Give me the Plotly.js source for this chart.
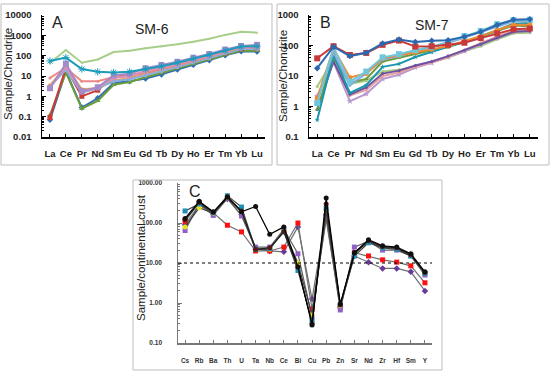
<!DOCTYPE html>
<html><head><meta charset="utf-8">
<script src="https://cdn.plot.ly/plotly-3.0.1.min.js"></script>
<style>html,body{margin:0;padding:0;background:#fff}#chart{width:550px;height:374px}</style>
</head><body><div id="chart"></div>
<script>
// ---------- Data ----------
const REE = ['La','Ce','Pr','Nd','Sm','Eu','Gd','Tb','Dy','Ho','Er','Tm','Yb','Lu'];
const TRACE = ['Cs','Rb','Ba','Th','U','Ta','Nb','Ce','Bi','Cu','Pb','Zn','Sr','Nd','Zr','Hf','Sm','Y'];

// Panel A: SM-6 (sample/chondrite)
const sm6Blue   = [0.07,17,0.28,0.8,4.5,5.5,7.5,12,21,36,60,105,165,160];
const sm6Red    = [0.09,25,1.0,2.0,9,11,14,20,32,52,85,140,220,230];
const sm6Green  = [0.12,15,0.25,0.6,3.7,5,9,14,24,40,65,115,180,175];
const sm6Purple = [2.5,40,1.8,2.8,11,13,24,35,50,80,120,200,300,340];
const sm6Cyan   = [55,80,22,16,15,16,22,30,45,70,110,180,280,290];
const sm6Orange = [3.5,30,2.2,2.5,6,8,12,18,30,50,80,140,230,220];
const sm6Salmon = [8,25,5.5,5.5,9,10,15,22,35,55,90,150,250,250];
const sm6LtGreen= [44,190,45,65,150,175,230,280,360,480,680,1050,1500,1350];
const sm6LtBlue = [3,20,1.5,2.5,5.5,7,11,17,28,46,75,130,210,210];
const sm6Pink   = [2.8,28,1.7,2.6,8,10,18,26,40,65,100,170,270,290];

// Panel B: SM-7 (sample/chondrite)
const sm7Blue   = [18,91,45,58,117,158,130,144,150,195,280,470,700,720];
const sm7Red    = [38,95,49,57,105,145,92,95,105,123,175,250,340,360];
const sm7LtCyan = [1.3,85,6.5,14,41,52,71,90,131,204,300,500,680,700];
const sm7Orange = [1.9,80,9,12,38,48,60,75,95,140,200,320,480,480];
const sm7Teal   = [0.36,49,2.8,5,20,25,42,60,90,130,200,320,520,550];
const sm7Purple = [0.8,30,2.5,4.2,12,15,22,30,45,70,110,180,280,300];
const sm7LtGreen= [4.5,35,5.5,7,14,16,20,28,40,65,95,160,250,260];
const sm7Lilac  = [2.2,28,1.5,2.6,8,11,19,27,42,65,110,180,280,300];
const sm7Pink   = [2.0,30,2.3,3.5,10,13,20,28,42,70,120,200,300,320];
const sm7Olive  = [0.8,40,6,8,30,40,55,70,90,130,190,300,450,430];
const sm7LtBlue = [1.5,60,5,12,35,45,65,85,120,180,270,420,620,650];

// Panel C: sample/continental crust
const cCyan     = [200,300,180,480,250,22,23,60,6.5,0.35,230,0.9,15,32,24,22,15,5.5];
const cBlack    = [130,350,190,440,190,260,52,80,8,0.28,420,0.95,18,38,27,25,17,6];
const cRed      = [110,320,180,88,60,20,20,25,100,0.7,120,0.8,18,15,12,10.5,8.5,3.2];
const cYellow   = [80,240,175,430,200,22,22,65,10,0.5,200,0.85,17,35,25,23,16,5.5];
const cPurple   = [65,300,155,420,150,25,25,70,17,0.45,150,0.67,25,35,21,21,15,5];
const cDkPurple = [90,280,170,400,160,22,20,19,80,1.25,160,0.8,15,10.5,7.3,7.3,6,2];
const cBrown    = [120,330,185,450,200,22,24,60,8,0.3,300,0.9,18,36,26,24,16,5.8];

const ticksA = [0.01,0.1,1,10,100,1000,10000];
const ticksB = [0.1,1,10,100,1000];
const ticksC = [0.1,1,10,100,1000];
const ticksCText = ['0.10','1.00','10.00','100.00','1000.00'];

// ---------- Traces ----------
const W = 550, H = 374;
function rl(xa, ya, y, color, sym, msize, lw){
  return {x: REE, y: y, xaxis: xa, yaxis: ya, type:'scatter', mode:'lines+markers',
    line:{color: color, width: lw||2}, marker:{color: color, symbol: sym, size: msize}, hoverinfo:'skip'};
}
function cl(y, color, sym, lcol){
  return {x: TRACE, y: y, xaxis:'x3', yaxis:'y3', type:'scatter', mode:'lines+markers',
    line:{color: lcol, width: 1.2}, marker:{color: color, symbol: sym, size: 5}, hoverinfo:'skip'};
}
const traces = [
  rl('x','y', sm6LtGreen,'#a8cf8a','circle',2,2),
  rl('x','y', sm6Blue,'#2f6db5','diamond',5),
  rl('x','y', sm6Green,'#6a9e3a','triangle-up',5),
  rl('x','y', sm6Red,'#cc3b36','square',5),
  rl('x','y', sm6Orange,'#f0a058','circle',4),
  rl('x','y', sm6LtBlue,'#8aaedc','circle',4),
  rl('x','y', sm6Salmon,'#ec8a88','circle',3),
  rl('x','y', sm6Pink,'#d890b8','x',5),
  rl('x','y', sm6Purple,'#a48cc8','square',6),
  rl('x','y', sm6Cyan,'#1c9cbc','asterisk-open',6),

  rl('x2','y2', sm7LtGreen,'#a6cc82','circle',3),
  rl('x2','y2', sm7Lilac,'#b89ad0','star',5),
  rl('x2','y2', sm7Pink,'#e6a0a0','circle',3),
  rl('x2','y2', sm7Purple,'#6e52a0','circle',3),
  rl('x2','y2', sm7Olive,'#6e9a40','triangle-up',4),
  rl('x2','y2', sm7Teal,'#1a96ac','star',4),
  rl('x2','y2', sm7LtBlue,'#84acdc','circle',3),
  rl('x2','y2', sm7Orange,'#f08a30','circle',5),
  rl('x2','y2', sm7LtCyan,'#70c6dc','square',6),
  rl('x2','y2', sm7Red,'#c83a3a','square',6),
  rl('x2','y2', sm7Blue,'#2a68b0','diamond',5),

  cl(cDkPurple,'#6a3a9a','diamond','#707070'),
  cl(cRed,'#ff1010','square','#707070'),
  cl(cPurple,'#9060c8','square','#606060'),
  cl(cYellow,'#e8e020','circle','#404040'),
  cl(cCyan,'#1e90b8','square','#404040'),
  cl(cBrown,'#5a1a10','circle','#202020'),
  cl(cBlack,'#101010','circle','#000000'),
  // invisible carrier so the offset label axis of panel C is drawn
  {x: TRACE, y: cBlack, xaxis:'x3', yaxis:'y4', type:'scatter', mode:'lines', opacity:0, hoverinfo:'skip'}
];

// ---------- Layout ----------
const px = v => v / W;
const py = v => 1 - v / H;
const tickF = {family:'Liberation Sans, Arial, sans-serif', size:9.5, color:'#222', weight:'bold'};
const tickFY = {family:'Liberation Sans, Arial, sans-serif', size:9.5, color:'#222', weight:'bold'};
const tickFC = {family:'Liberation Sans, Arial, sans-serif', size:6.5, color:'#333', weight:'bold'};
function xax(dom, anchor, n, font, lc, so){
  return {domain: dom, anchor: anchor, type:'category', range:[-0.5, n-0.5], showgrid:false, zeroline:false,
    showline:true, linecolor: lc, linewidth:1.5, ticks:'inside', ticklen:3, tickcolor: lc, tickangle:0,
    tickfont: font, ticklabelstandoff: so, fixedrange:true};
}
function yax(dom, anchor, rng, tv, tt, font, lc, so){
  return {domain: dom, anchor: anchor, type:'log', range: rng, showgrid:false, zeroline:false,
    showline:true, linecolor: lc, linewidth:1.5, ticks:'inside', ticklen:4, tickcolor: lc,
    tickmode:'array', tickvals: tv, ticktext: tt, tickfont: font, ticklabelstandoff: so,
    minor:{ticks:'inside', ticklen:2, tickcolor: lc, dtick:'D1', showgrid:false}, fixedrange:true};
}
const ann = (text, x, y, size, angle) => ({text: text, x: px(x), y: py(y), xref:'paper', yref:'paper',
  xanchor:'center', yanchor:'middle', showarrow:false, textangle: angle||0,
  font:{family:'Liberation Sans, Arial, sans-serif', size: size, color:'#222'}});
const y3 = yax([py(343), py(183)], 'x3', [-1, 3], ticksC, ticksCText, tickFC, '#777', 4);
y3.showticklabels = false;
const layout = {
  width: W, height: H, margin:{l:0,r:0,t:0,b:0}, paper_bgcolor:'#fff', plot_bgcolor:'rgba(0,0,0,0)',
  showlegend:false,
  xaxis:  xax([px(42), px(265)], 'y', 14, tickF, '#000', 7),
  yaxis:  yax([py(137), py(15)], 'x', [-2, 4], ticksA, ticksA.map(String), tickFY, '#000', 7),
  xaxis2: xax([px(309), px(538)], 'y2', 14, tickF, '#000', 7),
  yaxis2: yax([py(137), py(15)], 'x2', [-1, 3], ticksB, ticksB.map(String), tickFY, '#000', 7),
  xaxis3: xax([px(178), px(432)], 'y3', 18, tickFC, '#777', 11),
  yaxis3: y3,
  yaxis4: {overlaying:'y3', anchor:'free', position: px(162), side:'left', type:'log', range:[-1,3],
    showline:false, showgrid:false, zeroline:false, ticks:'', tickmode:'array', tickvals: ticksC,
    ticktext: ticksCText, tickfont: tickFC, fixedrange:true},
  shapes: [
    {type:'rect', xref:'paper', yref:'paper', x0:px(1), x1:px(272), y0:py(165), y1:py(4), line:{color:'#bdbdbd', width:1}},
    {type:'rect', xref:'paper', yref:'paper', x0:px(277), x1:px(549), y0:py(165), y1:py(4), line:{color:'#bdbdbd', width:1}},
    {type:'rect', xref:'paper', yref:'paper', x0:px(133), x1:px(442), y0:py(370), y1:py(180), line:{color:'#bdbdbd', width:1}},
    {type:'line', xref:'x3 domain', yref:'y3', x0:0, x1:1, y0:10, y1:10, line:{color:'#000', width:1.2, dash:'dot'}}
  ],
  annotations: [
    ann('A', 57, 22, 16),
    ann('SM-6', 152, 29, 14),
    ann('B', 325, 22, 16),
    ann('SM-7', 432, 25, 14),
    ann('C', 195, 191, 16),
    ann('Sample/Chondrite', 8, 74, 11.5, -90),
    ann('Sample/Chondrite', 283, 76, 11.5, -90),
    ann('Sample/continental crust', 141, 258, 11.5, -90)
  ]
};
Plotly.newPlot('chart', traces, layout, {staticPlot:true, displayModeBar:false});
</script>
</body></html>
